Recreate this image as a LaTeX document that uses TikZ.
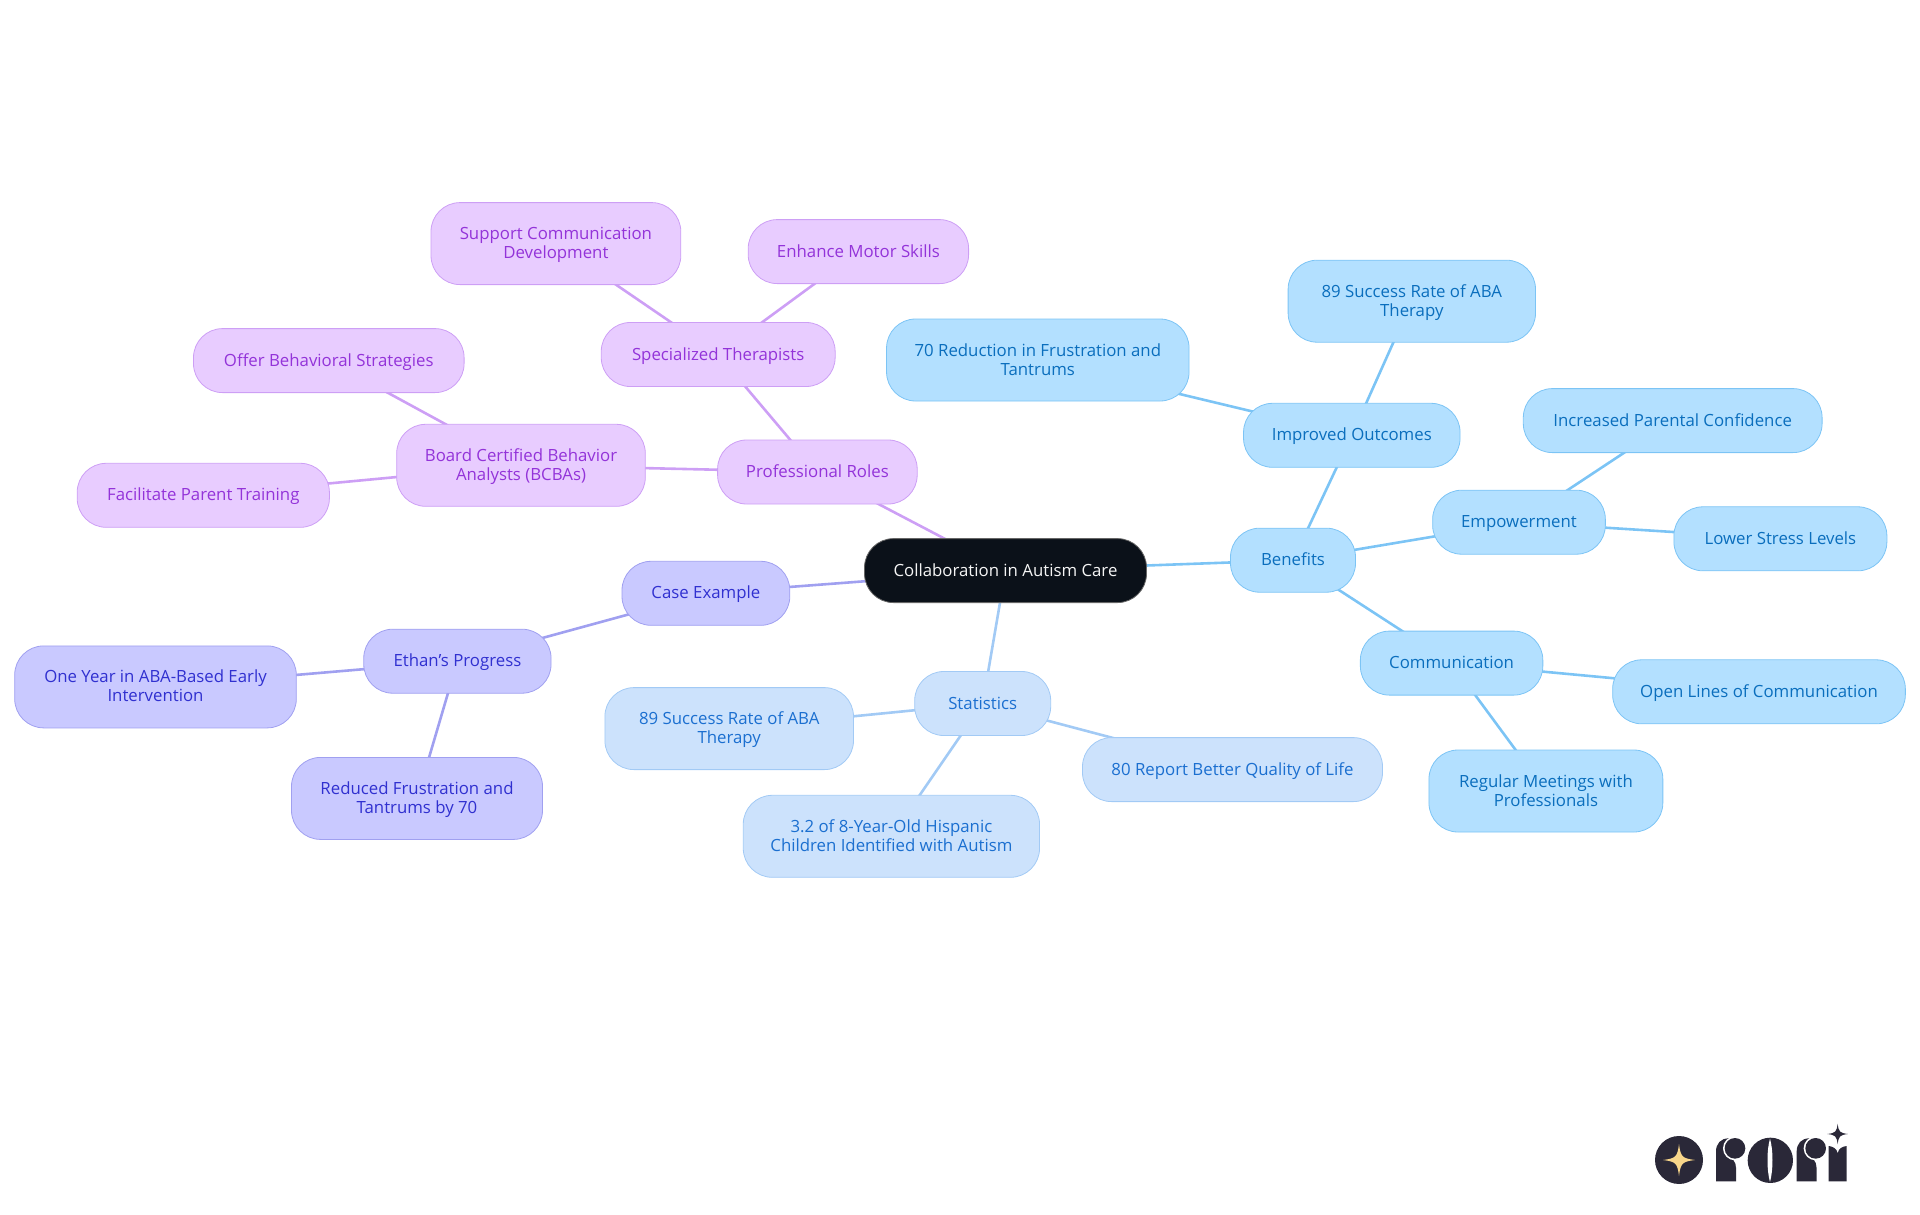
\documentclass[tikz,border=0pt]{standalone}
\usepackage{fontspec}
\setmainfont{Open Sans}
\usetikzlibrary{backgrounds}
\definecolor{rootfill}{HTML}{0B1119}
\definecolor{benefitfill}{HTML}{B3E0FF}
\definecolor{benefitline}{HTML}{7CC4F5}
\definecolor{benefittext}{HTML}{0A6EBD}
\definecolor{statfill}{HTML}{CCE2FC}
\definecolor{statline}{HTML}{A2CAF5}
\definecolor{stattext}{HTML}{1B6FD0}
\definecolor{casefill}{HTML}{C9C9FF}
\definecolor{caseline}{HTML}{A0A0F0}
\definecolor{casetext}{HTML}{3030D0}
\definecolor{rolefill}{HTML}{E8CCFF}
\definecolor{roleline}{HTML}{CD9FF5}
\definecolor{roletext}{HTML}{9333D9}
\definecolor{logodark}{HTML}{2A2838}
\definecolor{logostar}{HTML}{F8D68A}
\def\fourstar(#1,#2)(#3)[#4]{\fill[#4] (#1-#3,#2) .. controls (#1-#3*0.2,#2-#3*0.1) and (#1-#3*0.1,#2-#3*0.2) .. (#1,#2-#3) .. controls (#1+#3*0.1,#2-#3*0.2) and (#1+#3*0.2,#2-#3*0.1) .. (#1+#3,#2) .. controls (#1+#3*0.2,#2+#3*0.1) and (#1+#3*0.1,#2+#3*0.2) .. (#1,#2+#3) .. controls (#1-#3*0.1,#2+#3*0.2) and (#1-#3*0.2,#2+#3*0.1) .. (#1-#3,#2) -- cycle;}
\def\logor(#1){
	\fill[logodark] (#1,304) -- (#1,215) .. controls (#1,190) and (#1+15,175) .. (#1+38,175) -- (#1+60,205) -- (#1+60,304) -- cycle;
	\fill[white] (#1+57,205) circle (36);
	\fill[white] (#1+34,225) -- (#1+70,225) -- (#1+70,262) -- (#1+60,262) .. controls (#1+60,245) and (#1+50,235) .. (#1+34,225) -- cycle;
	\fill[logodark] (#1+57,205) circle (31);
}
\tikzset{
	mapnode/.style={rounded corners=29pt, line width=0.8pt, inner sep=0pt, align=center, font=\fontsize{16.8}{19}\selectfont, minimum height=64pt, text height=13pt, text depth=2pt},
	twolines/.style={minimum height=82pt, text height=32pt},
	rootnode/.style={mapnode, fill=rootfill, draw=black!60, text=white!96!black},
	benefitnode/.style={mapnode, fill=benefitfill, draw=benefitline, text=benefittext},
	statnode/.style={mapnode, fill=statfill, draw=statline, text=stattext},
	casenode/.style={mapnode, fill=casefill, draw=caseline, text=casetext},
	rolenode/.style={mapnode, fill=rolefill, draw=roleline, text=roletext},
	mapedge/.style={line width=2.6pt}
}
\begin{document}
\begin{tikzpicture}[x=1pt, y=-1pt]
	%%%%% START %%%%%
	\useasboundingbox (0, 0) rectangle (1920, 1215);

	\begin{scope}[shift={(0, 0.6)}]
	\node[rootnode, minimum width=282pt] (root) at (1005.5, 570) {Collaboration in Autism Care};

	% benefits
	\node[benefitnode, minimum width=125pt] (benefits) at (1293, 559.6) {Benefits};
	\node[benefitnode, minimum width=216.5pt] (outcomes) at (1351.8, 434.7) {Improved Outcomes};
	\node[benefitnode, twolines, minimum width=247.4pt] (success) at (1411.8, 300.6) {89 Success Rate of ABA\\Therapy};
	\node[benefitnode, twolines, minimum width=302.5pt] (reduction) at (1037.8, 359.4) {70 Reduction in Frustration and\\Tantrums};
	\node[benefitnode, minimum width=172.7pt] (empower) at (1519, 521.6) {Empowerment};
	\node[benefitnode, minimum width=298.8pt] (confidence) at (1672.7, 420) {Increased Parental Confidence};
	\node[benefitnode, minimum width=213pt] (stress) at (1780.4, 538.2) {Lower Stress Levels};
	\node[benefitnode, minimum width=182.5pt] (comm) at (1451.6, 662.5) {Communication};
	\node[benefitnode, minimum width=292.7pt] (openlines) at (1759, 691.2) {Open Lines of Communication};
	\node[benefitnode, twolines, minimum width=233.9pt] (meetings) at (1545.9, 790.4) {Regular Meetings with\\Professionals};

	% statistics
	\node[statnode, minimum width=136pt] (stats) at (982.7, 702.9) {Statistics};
	\node[statnode, twolines, minimum width=248.6pt] (statsuccess) at (729.2, 728) {89 Success Rate of ABA\\Therapy};
	\node[statnode, twolines, minimum width=296.3pt] (hispanic) at (891.4, 835.7) {3.2 of 8-Year-Old Hispanic\\Children Identified with Autism};
	\node[statnode, minimum width=300pt] (quality) at (1232.5, 769) {80 Report Better Quality of Life};

	% case example
	\node[casenode, minimum width=167.8pt] (case) at (705.9, 592.7) {Case Example};
	\node[casenode, minimum width=187.3pt] (ethan) at (457.4, 660.6) {Ethan's Progress};
	\node[casenode, twolines, minimum width=281.6pt] (oneyear) at (155.5, 686.3) {One Year in ABA-Based Early\\Intervention};
	\node[casenode, twolines, minimum width=251pt] (reduced) at (417, 797.8) {Reduced Frustration and\\Tantrums by 70};

	% professional roles
	\node[rolenode, minimum width=199.6pt] (roles) at (817.4, 471.4) {Professional Roles};
	\node[rolenode, twolines, minimum width=248.6pt] (bcba) at (521, 464.7) {Board Certified Behavior\\Analysts (BCBAs)};
	\node[rolenode, minimum width=270.6pt] (strategies) at (328.8, 360) {Offer Behavioral Strategies};
	\node[rolenode, minimum width=252.2pt] (parent) at (203.3, 494.7) {Facilitate Parent Training};
	\node[rolenode, minimum width=233.9pt] (therapists) at (718.2, 353.9) {Specialized Therapists};
	\node[rolenode, twolines, minimum width=249.8pt] (support) at (555.9, 243) {Support Communication\\Development};
	\node[rolenode, minimum width=220.4pt] (motor) at (858.4, 251) {Enhance Motor Skills};
	\end{scope}

	\begin{scope}[on background layer]
		\draw[mapedge, color=benefitline] (root.center) -- (benefits.center);
		\draw[mapedge, color=benefitline] (benefits.center) -- (outcomes.center);
		\draw[mapedge, color=benefitline] (outcomes.center) -- (success.center);
		\draw[mapedge, color=benefitline] (outcomes.center) -- (reduction.center);
		\draw[mapedge, color=benefitline] (benefits.center) -- (empower.center);
		\draw[mapedge, color=benefitline] (empower.center) -- (confidence.center);
		\draw[mapedge, color=benefitline] (empower.center) -- (stress.center);
		\draw[mapedge, color=benefitline] (benefits.center) -- (comm.center);
		\draw[mapedge, color=benefitline] (comm.center) -- (openlines.center);
		\draw[mapedge, color=benefitline] (comm.center) -- (meetings.center);

		\draw[mapedge, color=statline] (root.center) -- (stats.center);
		\draw[mapedge, color=statline] (stats.center) -- (statsuccess.center);
		\draw[mapedge, color=statline] (stats.center) -- (hispanic.center);
		\draw[mapedge, color=statline] (stats.center) -- (quality.center);

		\draw[mapedge, color=caseline] (root.center) -- (case.center);
		\draw[mapedge, color=caseline] (case.center) -- (ethan.center);
		\draw[mapedge, color=caseline] (ethan.center) -- (oneyear.center);
		\draw[mapedge, color=caseline] (ethan.center) -- (reduced.center);

		\draw[mapedge, color=roleline] (root.center) -- (roles.center);
		\draw[mapedge, color=roleline] (roles.center) -- (bcba.center);
		\draw[mapedge, color=roleline] (bcba.center) -- (strategies.center);
		\draw[mapedge, color=roleline] (bcba.center) -- (parent.center);
		\draw[mapedge, color=roleline] (roles.center) -- (therapists.center);
		\draw[mapedge, color=roleline] (therapists.center) -- (support.center);
		\draw[mapedge, color=roleline] (therapists.center) -- (motor.center);
	\end{scope}

	% logo
	\begin{scope}[shift={(1600, 1080)}, x=0.3333pt, y=-0.3333pt]
		\fill[logodark] (237, 240) circle (72);
		\fourstar(237,240)(48)[logostar]
		\logor(348)
		\fill[logodark] (511, 241) circle (68);
		\fill[white] (510, 176) .. controls (500, 210) and (500, 270) .. (510, 306) .. controls (520, 270) and (520, 210) .. (510, 176) -- cycle;
		\logor(590)
		\fill[logodark] (686, 304) -- (686, 198) .. controls (700, 200) and (710, 205) .. (713, 220) .. controls (716, 205) and (726, 200) .. (740, 198) -- (740, 304) -- cycle;
		\fourstar(713,162)(31)[logodark]
	\end{scope}
	%%%%% END %%%%%
\end{tikzpicture}
\end{document}
